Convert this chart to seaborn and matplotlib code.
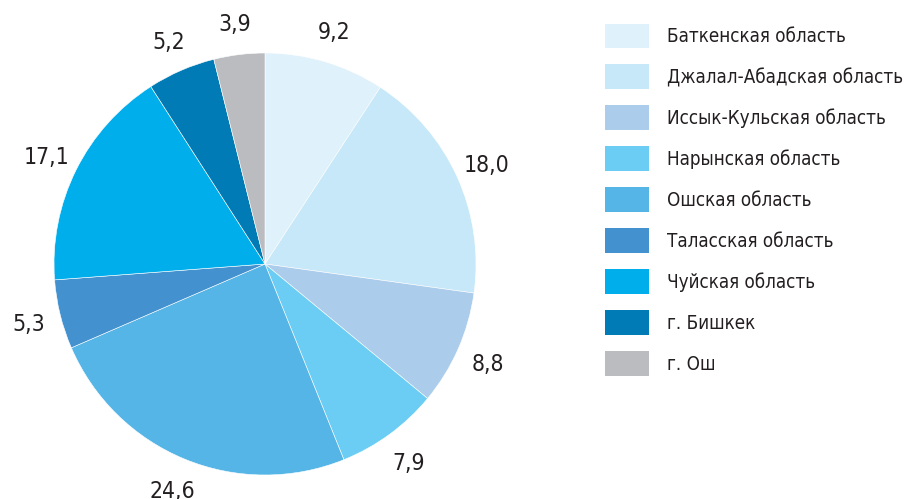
import matplotlib
matplotlib.use("Agg")
import matplotlib.pyplot as plt
from matplotlib.patches import Patch
import seaborn as sns

regions = ["Баткенская область", "Джалал-Абадская область", "Иссык-Кульская область",
           "Нарынская область", "Ошская область", "Таласская область",
           "Чуйская область", "г. Бишкек", "г. Ош"]
shares = [9.2, 18.0, 8.8, 7.9, 24.6, 5.3, 17.1, 5.2, 3.9]
colors = ["#DFF1FB", "#C6E8F8", "#ABCCEB", "#6BCDF4", "#54B5E6",
          "#4391CE", "#00AEEC", "#007BB5", "#BBBCC0"]

sns.set_theme(style="white")
plt.rcParams["font.family"] = ["DejaVu Sans"]
plt.rcParams["font.stretch"] = "condensed"
TXT = "#231F20"

fig = plt.figure(figsize=(9.05, 4.99), dpi=100)
ax = fig.add_axes([54 / 905, 24 / 499, 422 / 905, 422 / 499])

labels = [f"{v:.1f}".replace(".", ",") for v in shares]
wedges, texts = ax.pie(shares, colors=colors, labels=labels, startangle=90,
                       counterclock=False, radius=1, labeldistance=1.155,
                       wedgeprops=dict(edgecolor="white", linewidth=0.4),
                       textprops=dict(fontsize=16.5, color=TXT))
for t in texts:
    t.set_ha("center")
    t.set_va("center_baseline")
ax.set_xlim(-1, 1)
ax.set_ylim(-1, 1)
ax.set_aspect("equal")

# легенда справа
handles = [Patch(facecolor=c, edgecolor="none") for c in colors]
fig.legend(handles, regions, loc="upper left", bbox_to_anchor=(605 / 905, 1 - 23.5 / 499),
           frameon=False, fontsize=13.5, handlelength=2.35, handleheight=1.674,
           handletextpad=0.96, labelspacing=0.85, borderpad=0, borderaxespad=0,
           labelcolor=TXT)

fig.savefig("out.png", dpi=100)
